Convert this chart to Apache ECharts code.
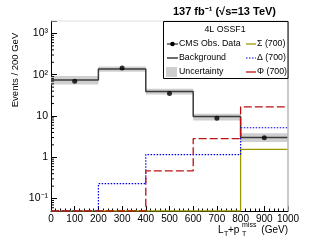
<!DOCTYPE html>
<html><head><meta charset="utf-8">
<script src="https://cdn.jsdelivr.net/npm/echarts@6/dist/echarts.min.js"></script>
<style>html,body{margin:0;padding:0;background:#fff}#c{width:311px;height:248px}</style>
</head><body><div id="c"></div>
<script>
// ---- data ----
const binEdges = [0, 200, 400, 600, 800, 1000];
const binCenters = [100, 300, 500, 700, 900];
const dataObs = [69, 145, 35, 8.8, 2.98];
const background = [74.5, 137, 39, 9.7, 3.03];
const uncUp = [93, 158, 46, 11.3, 3.8];
const uncDown = [58, 118, 33, 7.8, 2.35];
const sigSigma = [0, 0, 0, 0, 1.56];
const sigDelta = [0, 0.23, 1.16, 1.16, 5.2];
const sigPhi = [0, 0, 0.47, 2.82, 16.7];
const xTickValues = [0, 100, 200, 300, 400, 500, 600, 700, 800, 900, 1000];
const yMajorTicks = [0.1, 1, 10, 100, 1000];
const yLabels = ['10⁻¹', '1', '10', '10²', '10³'];
const yMin = 0.05, yMax = 2000;

const FONT = 'Liberation Sans, Arial, Helvetica, sans-serif';
const LF = '8.8px ' + FONT;

const yMinor = [];
[0.01, 0.1, 1, 10, 100, 1000].forEach(d => {
  for (let k = 2; k <= 9; k++) { const v = d * k; if (v > yMin && v < yMax) yMinor.push(v); }
});

function stepData(vals) {
  return binEdges.map((e, i) => [e, Math.max(vals[Math.min(i, vals.length - 1)], yMin)]);
}

const chart = echarts.init(document.getElementById('c'), null, {renderer: 'canvas'});

const option = {
  animation: false,
  backgroundColor: '#fff',
  grid: {left: 51, right: 23, top: 21, bottom: 37},
  xAxis: {
    type: 'value', min: 0, max: 1000, interval: 100,
    axisLine: {lineStyle: {color: '#000', width: 1}},
    axisTick: {inside: true, length: 5, lineStyle: {color: '#000'}},
    minorTick: {show: true, splitNumber: 5, length: 2.5, lineStyle: {color: '#000'}},
    splitLine: {show: false},
    axisLabel: {
      color: '#000', fontSize: 10, fontFamily: FONT, margin: 3,
      formatter: v => xTickValues.includes(v) ? String(v) : ''
    }
  },
  yAxis: {
    type: 'log', min: yMin, max: yMax, logBase: 10,
    axisLine: {lineStyle: {color: '#000', width: 1}},
    axisTick: {inside: true, length: 6, lineStyle: {color: '#000'}},
    splitLine: {show: false},
    axisLabel: {
      color: '#000', fontSize: 10.5, fontFamily: FONT, margin: 3,
      formatter: v => {
        for (let i = 0; i < yMajorTicks.length; i++) {
          if (Math.abs(Math.log10(v) - Math.log10(yMajorTicks[i])) < 1e-6) return yLabels[i];
        }
        return '';
      }
    }
  },
  series: [
    {
      type: 'custom', name: 'Uncertainty', z: 1,
      renderItem: (params, api) => {
        const p0 = api.coord([api.value(0), api.value(3)]);
        const p1 = api.coord([api.value(1), api.value(2)]);
        return {type: 'rect', shape: {x: p0[0], y: p0[1], width: p1[0] - p0[0], height: p1[1] - p0[1]},
          style: {fill: '#cfcfcf'}};
      },
      encode: {x: [0, 1], y: [2, 3]},
      data: binCenters.map((c, i) => [binEdges[i], binEdges[i + 1], uncDown[i], uncUp[i]])
    },
    {
      type: 'custom', name: 'yminor', z: 5, silent: true,
      renderItem: (params, api) => {
        const p = api.coord([0, api.value(1)]);
        return {type: 'line', shape: {x1: p[0], y1: p[1], x2: p[0] + 3, y2: p[1]},
          style: {stroke: '#000', lineWidth: 1}};
      },
      encode: {x: 0, y: 1},
      data: yMinor.map(v => [0, v])
    },
    {
      type: 'line', name: 'Background', step: 'end', symbol: 'none', z: 3,
      lineStyle: {color: '#3a3a3a', width: 1.5},
      data: stepData(background)
    },
    {
      type: 'line', name: 'Sigma', step: 'end', symbol: 'none', z: 4,
      lineStyle: {color: '#999900', width: 1.3},
      data: stepData(sigSigma)
    },
    {
      type: 'line', name: 'Delta', step: 'end', symbol: 'none', z: 4,
      lineStyle: {color: '#0000ee', width: 1.2, type: [1.5, 1.5]},
      data: stepData(sigDelta)
    },
    {
      type: 'line', name: 'Phi', step: 'end', symbol: 'none', z: 4,
      lineStyle: {color: '#bb1111', width: 1.3, type: [8, 3]},
      data: stepData(sigPhi)
    },
    {
      type: 'scatter', name: 'Data', symbol: 'circle', symbolSize: 5, z: 6,
      itemStyle: {color: '#000'},
      data: binCenters.map((c, i) => [c, dataObs[i]])
    }
  ],
  graphic: [
    {type: 'line', z: 50, shape: {x1: 288, y1: 21, x2: 288, y2: 211}, style: {stroke: '#b8b8b8', lineWidth: 1.5}},
    {type: 'line', z: 50, shape: {x1: 51, y1: 21, x2: 288, y2: 21}, style: {stroke: '#dddddd', lineWidth: 1}},
    {type: 'text', z: 60, x: 276, y: 12, style: {text: '137 fb⁻¹ (√s=13 TeV)', font: 'bold 11px ' + FONT,
      fill: '#000', textAlign: 'right', textVerticalAlign: 'middle'}},
    {type: 'text', z: 60, x: 15, y: 70, rotation: Math.PI / 2, style: {text: 'Events / 200 GeV', font: '9.5px ' + FONT,
      fill: '#000', textAlign: 'center', textVerticalAlign: 'middle'}},
    {type: 'text', z: 60, x: 218, y: 230, style: {text: 'L', font: '10px ' + FONT, fill: '#000', textAlign: 'left', textVerticalAlign: 'middle'}},
    {type: 'text', z: 60, x: 224, y: 234, style: {text: 'T', font: '7px ' + FONT, fill: '#000', textAlign: 'left', textVerticalAlign: 'middle'}},
    {type: 'text', z: 60, x: 228, y: 230, style: {text: '+p', font: '10px ' + FONT, fill: '#000', textAlign: 'left', textVerticalAlign: 'middle'}},
    {type: 'text', z: 60, x: 242, y: 234, style: {text: 'T', font: '7px ' + FONT, fill: '#000', textAlign: 'left', textVerticalAlign: 'middle'}},
    {type: 'text', z: 60, x: 242, y: 225, style: {text: 'miss', font: '7px ' + FONT, fill: '#000', textAlign: 'left', textVerticalAlign: 'middle'}},
    {type: 'text', z: 60, x: 288, y: 230, style: {text: '(GeV)', font: '10px ' + FONT, fill: '#000', textAlign: 'right', textVerticalAlign: 'middle'}},
    {type: 'rect', z: 70, shape: {x: 163.5, y: 21.5, width: 124.5, height: 57}, style: {fill: '#fff', stroke: '#000', lineWidth: 1}},
    {type: 'text', z: 71, x: 225, y: 30, style: {text: '4L OSSF1', font: LF, fill: '#000', textAlign: 'center', textVerticalAlign: 'middle'}},
    {type: 'line', z: 71, shape: {x1: 167, y1: 44, x2: 178, y2: 44}, style: {stroke: '#000', lineWidth: 1}},
    {type: 'circle', z: 72, shape: {cx: 172.5, cy: 44, r: 2.3}, style: {fill: '#000'}},
    {type: 'text', z: 71, x: 179, y: 44, style: {text: 'CMS Obs. Data', font: LF, fill: '#000', textAlign: 'left', textVerticalAlign: 'middle'}},
    {type: 'line', z: 71, shape: {x1: 246, y1: 44, x2: 256, y2: 44}, style: {stroke: '#999900', lineWidth: 1.3}},
    {type: 'text', z: 71, x: 257, y: 44, style: {text: 'Σ (700)', font: LF, fill: '#000', textAlign: 'left', textVerticalAlign: 'middle'}},
    {type: 'line', z: 71, shape: {x1: 167, y1: 58, x2: 178, y2: 58}, style: {stroke: '#3a3a3a', lineWidth: 1.5}},
    {type: 'text', z: 71, x: 179, y: 58, style: {text: 'Background', font: LF, fill: '#000', textAlign: 'left', textVerticalAlign: 'middle'}},
    {type: 'line', z: 71, shape: {x1: 246, y1: 58, x2: 256, y2: 58}, style: {stroke: '#0000ee', lineWidth: 1.2, lineDash: [1.5, 1.5]}},
    {type: 'text', z: 71, x: 257, y: 58, style: {text: 'Δ (700)', font: LF, fill: '#000', textAlign: 'left', textVerticalAlign: 'middle'}},
    {type: 'rect', z: 71, shape: {x: 166, y: 67, width: 11, height: 10}, style: {fill: '#cfcfcf'}},
    {type: 'text', z: 71, x: 179, y: 72, style: {text: 'Uncertainty', font: LF, fill: '#000', textAlign: 'left', textVerticalAlign: 'middle'}},
    {type: 'line', z: 71, shape: {x1: 246, y1: 72, x2: 256, y2: 72}, style: {stroke: '#bb1111', lineWidth: 1.3}},
    {type: 'text', z: 71, x: 257, y: 72, style: {text: 'Φ (700)', font: LF, fill: '#000', textAlign: 'left', textVerticalAlign: 'middle'}}
  ]
};
chart.setOption(option);
</script>
</body></html>
